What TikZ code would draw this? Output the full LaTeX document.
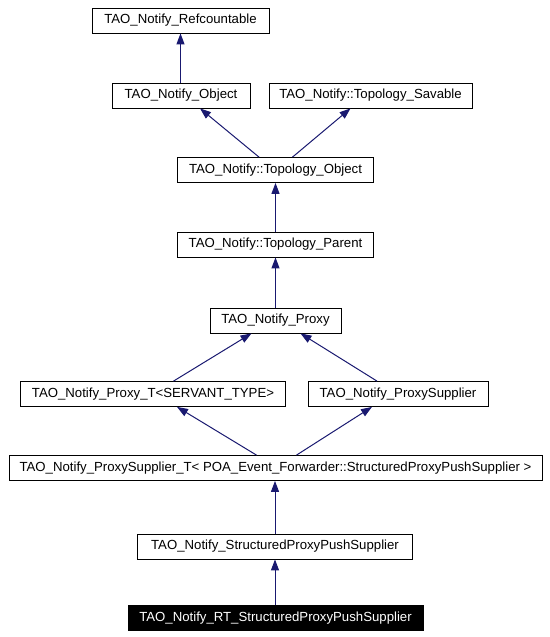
\documentclass[tikz,border=0pt]{standalone}
\usepackage{fontspec}
\setmainfont{Liberation Sans}
\usepackage{tikz}
\usetikzlibrary{arrows.meta}
\definecolor{edgeBlue}{RGB}{25,25,112}
\begin{document}
\begin{tikzpicture}
      [x=1pt,y=-1pt,
       classBox/.style={rectangle,draw=black,line width=0.8pt,minimum height=25pt,inner sep=0pt,font=\fontsize{13.2}{15}\selectfont},
       currentBox/.style={classBox,fill=black,text=white},
       inheritArrow/.style={draw=edgeBlue,line width=1pt,-{Triangle[length=11pt,width=8pt]}}]
      \useasboundingbox (0,0) rectangle (549,637);
      \node[classBox,minimum width=177pt] (refcountable) at (180.5,20.5) {TAO\_Notify\_Refcountable};
      \node[classBox,minimum width=138pt] (object) at (181,95.5) {TAO\_Notify\_Object};
      \node[classBox,minimum width=203pt] (savable) at (370.5,95.5) {TAO\_Notify::Topology\_Savable};
      \node[classBox,minimum width=196pt] (topoObject) at (275.5,170) {TAO\_Notify::Topology\_Object};
      \node[classBox,minimum width=196pt] (topoParent) at (275.5,244.5) {TAO\_Notify::Topology\_Parent};
      \node[classBox,minimum width=131pt] (proxy) at (275.5,320.5) {TAO\_Notify\_Proxy};
      \node[classBox,minimum width=265pt] (proxyT) at (153,394) {TAO\_Notify\_Proxy\_T<SERVANT\_TYPE>};
      \node[classBox,minimum width=180pt] (proxySupplier) at (398,394) {TAO\_Notify\_ProxySupplier};
      \node[classBox,minimum width=533pt] (proxySupplierT) at (275.5,468) {TAO\_Notify\_ProxySupplier\_T< POA\_Event\_Forwarder::StructuredProxyPushSupplier >};
      \node[classBox,minimum width=275pt] (structPush) at (275,546.5) {TAO\_Notify\_StructuredProxyPushSupplier};
      \node[currentBox,minimum width=295pt] (rtStructPush) at (275.5,618) {TAO\_Notify\_RT\_StructuredProxyPushSupplier};

      \draw[inheritArrow] (object.north -| refcountable.south) -- (refcountable.south);
      \draw[inheritArrow] ([xshift=-16.5pt]topoObject.north) -- ([xshift=19pt]object.south);
      \draw[inheritArrow] ([xshift=17pt]topoObject.north) -- ([xshift=-20pt]savable.south);
      \draw[inheritArrow] (topoParent.north) -- (topoParent.north |- topoObject.south);
      \draw[inheritArrow] (proxy.north) -- (proxy.north |- topoParent.south);
      \draw[inheritArrow] ([xshift=20.5pt]proxyT.north) -- ([xshift=-24pt]proxy.south);
      \draw[inheritArrow] ([xshift=-21pt]proxySupplier.north) -- ([xshift=25pt]proxy.south);
      \draw[inheritArrow] ([xshift=-19pt]proxySupplierT.north) -- ([xshift=24pt]proxyT.south);
      \draw[inheritArrow] ([xshift=21pt]proxySupplierT.north) -- ([xshift=-26pt]proxySupplier.south);
      \draw[inheritArrow] (structPush.north) -- (structPush.north |- proxySupplierT.south);
      \draw[inheritArrow] (rtStructPush.north -| structPush.south) -- (structPush.south);
    \end{tikzpicture}
\end{document}
